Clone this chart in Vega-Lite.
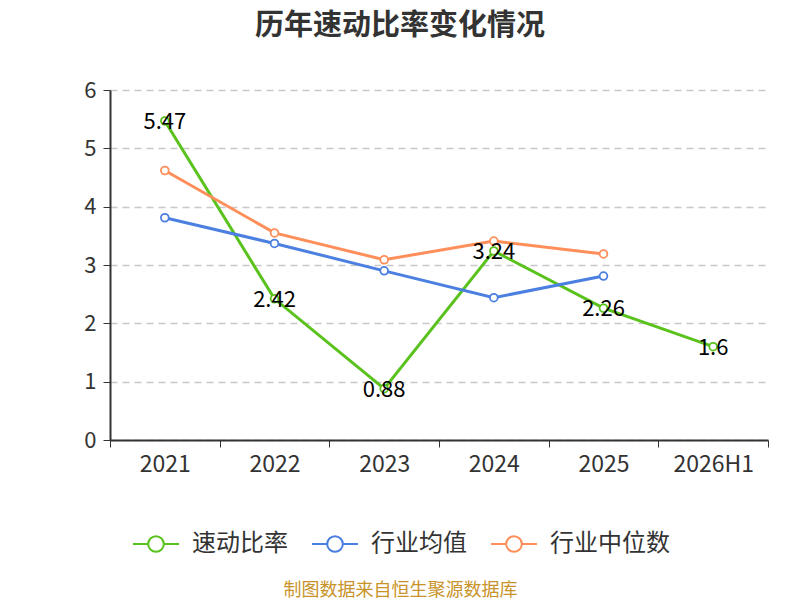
{
  "$schema": "https://vega.github.io/schema/vega-lite/v6.json",
  "width": 658,
  "height": 350,
  "autosize": {"type": "none"},
  "padding": {"left": 110, "top": 90, "right": 32, "bottom": 160},
  "background": "white",
  "config": {
    "font": "Noto Sans CJK SC",
    "view": {"stroke": null}
  },
  "title": {
    "text": "历年速动比率变化情况",
    "anchor": "middle",
    "dx": -39,
    "offset": 38,
    "fontSize": 29,
    "fontWeight": "bold",
    "color": "#333333"
  },
  "data": {
    "values": [
      {"year": "2021", "series": "速动比率", "value": 5.47},
      {"year": "2022", "series": "速动比率", "value": 2.42},
      {"year": "2023", "series": "速动比率", "value": 0.88},
      {"year": "2024", "series": "速动比率", "value": 3.24},
      {"year": "2025", "series": "速动比率", "value": 2.26},
      {"year": "2026H1", "series": "速动比率", "value": 1.6},
      {"year": "2021", "series": "行业均值", "value": 3.81},
      {"year": "2022", "series": "行业均值", "value": 3.37},
      {"year": "2023", "series": "行业均值", "value": 2.9},
      {"year": "2024", "series": "行业均值", "value": 2.44},
      {"year": "2025", "series": "行业均值", "value": 2.81},
      {"year": "2021", "series": "行业中位数", "value": 4.62},
      {"year": "2022", "series": "行业中位数", "value": 3.55},
      {"year": "2023", "series": "行业中位数", "value": 3.09},
      {"year": "2024", "series": "行业中位数", "value": 3.41},
      {"year": "2025", "series": "行业中位数", "value": 3.19}
    ]
  },
  "encoding": {
    "x": {
      "field": "year",
      "type": "ordinal",
      "bandPosition": 0.5,
      "scale": {"type": "band", "paddingInner": 0, "paddingOuter": 0, "domain": ["2021", "2022", "2023", "2024", "2025", "2026H1"]},
      "axis": {
        "title": "制图数据来自恒生聚源数据库",
        "titleColor": "#c8932a",
        "titleFontSize": 18,
        "titleFontWeight": "normal",
        "titleX": 290,
        "titleY": 150,
        "titleBaseline": "middle",
        "labelAngle": 0,
        "labelFontSize": 23,
        "labelColor": "#333333",
        "labelPadding": 6,
        "tickBand": "extent",
        "tickSize": 7,
        "tickColor": "#333333",
        "domainColor": "#333333",
        "domainWidth": 2,
        "grid": false
      }
    },
    "y": {
      "field": "value",
      "type": "quantitative",
      "scale": {"domain": [0, 6]},
      "axis": {
        "title": null,
        "values": [0, 1, 2, 3, 4, 5, 6],
        "labelFontSize": 22,
        "labelColor": "#333333",
        "labelPadding": 7,
        "tickSize": 7,
        "tickColor": "#333333",
        "domainColor": "#333333",
        "domainWidth": 2,
        "gridDash": [7, 5],
        "gridColor": "#c8c8c8",
        "gridWidth": 1.3
      }
    },
    "color": {
      "field": "series",
      "type": "nominal",
      "scale": {
        "domain": ["速动比率", "行业均值", "行业中位数"],
        "range": ["#5ac21c", "#4b7fe0", "#ff8f5a"]
      },
      "legend": {
        "title": null,
        "orient": "none",
        "direction": "horizontal",
        "legendX": 22,
        "legendY": 430,
        "labelFontSize": 24,
        "labelColor": "#333333",
        "columnPadding": 20,
        "labelOffset": 12,
        "symbolType": "M-1,0L-0.36,0M0.36,0L1,0M-0.34,0A0.34,0.34 0 1,1 0.34,0A0.34,0.34 0 1,1 -0.34,0",
        "symbolSize": 2116,
        "symbolStrokeWidth": 2,
        "symbolFillColor": "white"
      }
    }
  },
  "layer": [
    {
      "mark": {"type": "line", "strokeWidth": 3}
    },
    {
      "mark": {"type": "point", "filled": false, "fill": "white", "fillOpacity": 1, "size": 60, "strokeWidth": 1.8, "opacity": 1}
    },
    {
      "transform": [{"filter": "datum.series === '速动比率'"}],
      "mark": {"type": "text", "fontSize": 22, "baseline": "middle", "dy": 1},
      "encoding": {
        "text": {"field": "value", "type": "quantitative"},
        "color": {"value": "black"}
      }
    }
  ]
}
